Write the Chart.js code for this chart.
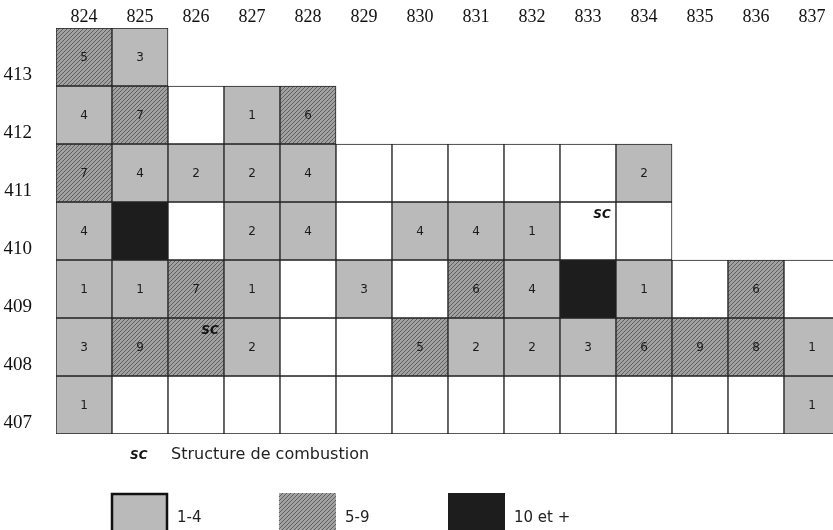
<!DOCTYPE html>
<html><head><meta charset="utf-8">
<script src="https://cdn.jsdelivr.net/npm/chart.js@4/dist/chart.umd.min.js"></script>
<style>html,body{margin:0;padding:0;background:#fff;overflow:hidden;width:833px;height:530px}canvas{display:block}</style>
</head><body>
<canvas id="c" width="840" height="530" style="width:840px;height:530px"></canvas>
<script>
// Column (x) labels and row (y) labels of the excavation grid
const columns = ['824','825','826','827','828','829','830','831','832','833','834','835','836','837'];
const rows = [413, 412, 411, 410, 409, 408, 407];
// Counts per square, columns 824 → 837; null = square not excavated, 0 = empty square
const row413 = [5, 3, null, null, null, null, null, null, null, null, null, null, null, null];
const row412 = [4, 7, 0, 1, 6, null, null, null, null, null, null, null, null, null];
const row411 = [7, 4, 2, 2, 4, 0, 0, 0, 0, 0, 2, null, null, null];
const row410 = [4, 10, 0, 2, 4, 0, 4, 4, 1, 0, 0, null, null, null];
const row409 = [1, 1, 7, 1, 0, 3, 0, 6, 4, 10, 1, 0, 6, 0];
const row408 = [3, 9, 5, 2, 0, 0, 5, 2, 2, 3, 6, 9, 8, 1];
const row407 = [1, 0, 0, 0, 0, 0, 0, 0, 0, 0, 0, 0, 0, 1];
const rowValues = [row413, row412, row411, row410, row409, row408, row407];
// squares whose count is not printed (only the shading class is shown)
const unlabeled = [['825', 410], ['833', 409], ['826', 408]];
// squares holding a combustion structure
const scCells = [['826', 408], ['833', 410]];
const legendLabels = ['1-4', '5-9', '10 et +'];
const scLegend = 'Structure de combustion';

// hatch pattern for 5-9
function hatch() {
  const p = document.createElement('canvas'); p.width = 4; p.height = 4;
  const g = p.getContext('2d');
  g.fillStyle = '#a2a2a2'; g.fillRect(0, 0, 4, 4);
  g.fillStyle = '#5e5e5e';
  for (let i = 0; i < 4; i++) { g.fillRect(i, 3 - i, 1, 1); }
  return g.createPattern(p, 'repeat');
}
const ctx0 = document.getElementById('c').getContext('2d');
const HATCH = hatch();
const LIGHT = '#bababa', DARK = '#1d1d1d', EMPTY = '#ffffff';
function fillFor(v) {
  if (v === null || v === undefined) return 'rgba(0,0,0,0)';
  if (v === 0) return EMPTY;
  if (v < 5) return LIGHT;
  if (v < 10) return HATCH;
  return DARK;
}

const datasets = rows.map((r, ri) => ({
  label: String(r),
  counts: rowValues[ri],
  data: rowValues[ri].map(v => v === null ? null : [r - 0.5, r + 0.5]),
  backgroundColor: c => fillFor(c.dataset.counts[c.dataIndex]),
  borderColor: '#222',
  borderWidth: 1,
  borderSkipped: false,
  grouped: false,
  barPercentage: 1,
  categoryPercentage: 1
}));

const isIn = (list, col, row) => list.some(([c, r]) => c === col && r === row);

const cellText = {
  id: 'cellText',
  afterDatasetsDraw(chart) {
    const { ctx, scales: { x, y } } = chart;
    ctx.save();
    ctx.textAlign = 'center'; ctx.textBaseline = 'middle';
    rows.forEach((r, ri) => {
      rowValues[ri].forEach((v, ci) => {
        const col = columns[ci];
        const cx = x.getPixelForValue(ci), cy = y.getPixelForValue(r);
        if (v !== null && v > 0 && !isIn(unlabeled, col, r)) {
          ctx.font = '12px "DejaVu Sans", sans-serif';
          ctx.fillStyle = '#1a1a1a';
          ctx.fillText(String(v), cx, cy + 1);
        }
        if (isIn(scCells, col, r)) {
          ctx.font = 'italic bold 12px "DejaVu Sans", sans-serif';
          ctx.fillStyle = '#111';
          ctx.fillText('SC', cx + 14, y.getPixelForValue(r + 0.5) + 13);
        }
      });
    });
    // legend
    const bx = [111, 279, 448], by = 493, bw = 57, bh = 40;
    const fills = [LIGHT, HATCH, DARK];
    ctx.font = 'italic bold 12px "DejaVu Sans", sans-serif';
    ctx.fillStyle = '#111'; ctx.textAlign = 'left';
    ctx.fillText('SC', 130, 456);
    ctx.font = '16px "DejaVu Sans", sans-serif';
    ctx.fillStyle = '#222';
    ctx.fillText(scLegend, 171, 455);
    legendLabels.forEach((lab, i) => {
      ctx.fillStyle = fills[i];
      ctx.fillRect(bx[i], by, bw, bh);
      if (i === 0) { ctx.strokeStyle = '#111'; ctx.lineWidth = 2.5; ctx.strokeRect(bx[i] + 1, by + 1, bw - 2, bh); }
      ctx.fillStyle = '#222';
      ctx.font = '15px "DejaVu Sans", sans-serif';
      ctx.fillText(lab, bx[i] + bw + 9, 518);
    });
    ctx.restore();
  }
};

new Chart(ctx0, {
  type: 'bar',
  data: { labels: columns, datasets },
  options: {
    responsive: false,
    animation: false,
    devicePixelRatio: 1,
    layout: { padding: { left: 0, right: 0, top: 0, bottom: 96 } },
    plugins: { legend: { display: false }, tooltip: { enabled: false } },
    scales: {
      x: {
        type: 'category', position: 'top', offset: true,
        grid: { display: false, drawTicks: false, tickLength: 0 }, border: { display: false },
        ticks: { color: '#111', font: { family: '"Liberation Serif", serif', size: 18 }, padding: 0, maxRotation: 0 },
        afterFit: s => { s.height = 28; }
      },
      y: {
        type: 'linear', min: 406.5, max: 413.5,
        grid: { display: false }, border: { display: false },
        afterBuildTicks: s => { s.ticks = rows.map(v => ({ value: v })); },
        ticks: { color: '#111', font: { family: '"Liberation Serif", serif', size: 19 }, padding: 16, labelOffset: 18, callback: v => String(v) },
        afterFit: s => { s.width = 56; }
      }
    }
  },
  plugins: [cellText]
});
</script>
</body></html>
